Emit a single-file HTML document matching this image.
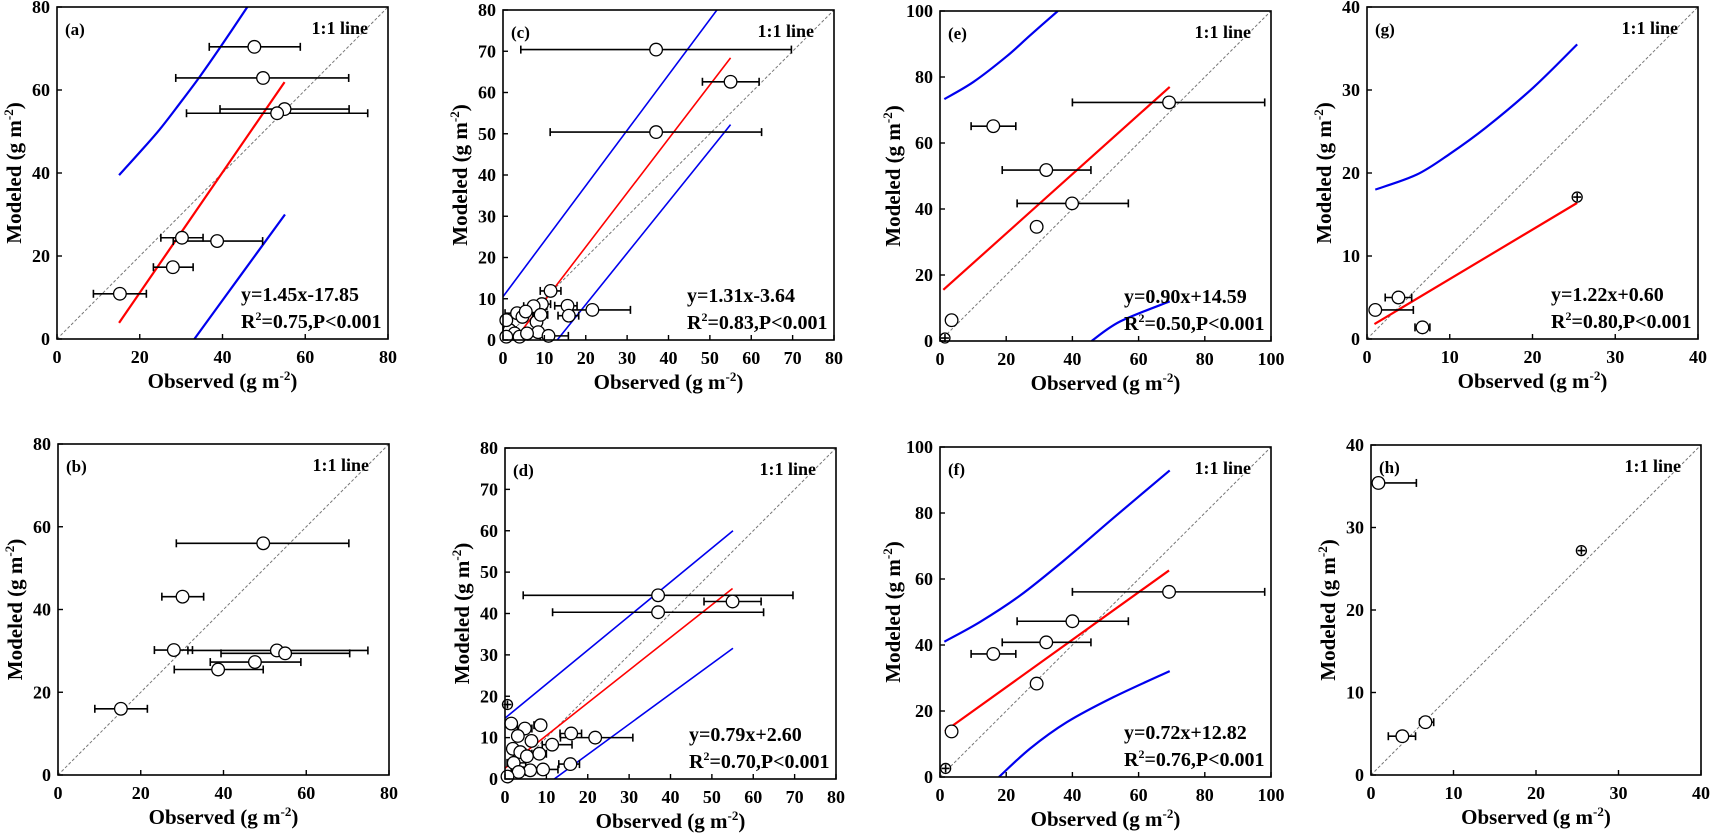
<!DOCTYPE html>
<html><head><meta charset="utf-8"><style>
html,body{margin:0;padding:0;background:#fff;}
svg{display:block;font-family:"Liberation Serif",serif;font-weight:bold;}
</style></head><body>
<svg id="fig" width="1711" height="840" viewBox="0 0 1711 840" xmlns="http://www.w3.org/2000/svg"></svg>
<script>
// ---- panel (a)
const aX=[47.7,49.8,55.0,53.2,30.2,38.7,28.0,15.2];
const aY=[70.4,62.9,55.4,54.4,24.4,23.6,17.3,10.9];
const aLo=[36.8,28.7,39.4,31.3,25.1,28.1,23.3,8.8];
const aHi=[58.8,70.5,70.6,75.1,35.3,49.7,32.9,21.6];
const aUpX=[15,20,24.9,29.7,34.5,39.4,46.2];
const aUpY=[39.5,45.0,50.6,56.8,63.2,70.2,80.3];
const aLowX=[33.2,44,55.1];
const aLowY=[0,14.8,30];
const aRedX=[15,55];
const aRedY=[3.9,61.9];
// ---- panel (b)
const bX=[49.6,30.1,28.0,52.9,54.9,47.6,38.7,15.2];
const bY=[56.0,43.1,30.2,30.1,29.4,27.3,25.5,16.0];
const bLo=[28.6,25.1,23.3,31.4,39.4,36.8,28.1,8.9];
const bHi=[70.3,35.2,32.5,74.9,70.5,58.7,49.6,21.6];
// ---- panel (c)
const cX=[37.0,55.0,37.0,11.5,21.6,15.6,15.9,9.4,7.4,8.1,9.1,3.4,4.7,5.5,8.5,11.0,1.6,2.8,0.8,4.0,5.8,0.8];
const cY=[70.4,62.6,50.4,11.9,7.3,8.3,5.9,8.7,8.2,4.4,6.1,6.5,5.6,6.9,1.9,1.0,2.4,1.6,0.8,0.8,1.6,4.8];
const cLo=[4.3,48.2,11.4,9.0,15.5,12.5,13.3,7.4,5.0,null,7.5,0.5,null,4.0,null,9.0,0,1.0,null,2.5,null,null];
const cHi=[69.7,61.9,62.5,14.0,30.8,17.9,18.3,11.5,10.6,null,10.8,7.2,null,7.5,null,15.8,3.2,5.0,null,6.0,null,null];
const cUpX=[0,51.7], cUpY=[10.5,80];
const cLowX=[13.1,55], cLowY=[0,52.2];
const cRedX=[2.78,55], cRedY=[0,68.4];
// ---- panel (d)
const dX=[37.0,55.0,37.0,1.5,4.8,8.6,3.1,6.4,16.0,21.8,11.4,8.3,1.9,3.7,5.3,2.1,15.8,9.2,6.1,3.3,0.6];
const dY=[44.4,42.9,40.3,13.4,12.2,13.0,10.4,9.2,11.0,10.0,8.3,6.1,7.3,6.5,5.5,3.9,3.6,2.3,2.1,1.7,0.6];
const dLo=[4.4,48.1,11.5,null,3.0,7.0,null,null,13.3,13.4,9.0,6.5,null,2.0,null,0.5,13.0,6.2,4.5,1.5,null];
const dHi=[69.6,61.9,62.5,null,6.5,9.5,null,null,18.5,30.9,16.2,10.0,null,5.0,null,5.0,18.0,12.8,8.0,5.0,null];
const dCross=[[0.6,18.0]];
const dUpX=[0,55.1], dUpY=[14.7,60];
const dLowX=[11.9,55.1], dLowY=[0,31.6];
const dRedX=[0,55], dRedY=[2.6,46.05];
// ---- panel (e)
const eX=[69.2,16.1,32.1,39.9,29.2,3.5];
const eY=[72.3,65.1,51.8,41.7,34.6,6.3];
const eLo=[40.0,9.4,18.8,23.3,null,null];
const eHi=[98.1,22.9,45.6,56.9,null,null];
const eCross=[[1.5,0.9]];
const eUpX=[1.3,10.1,20.2,27.2,35.6], eUpY=[73.3,78.5,86.3,92.6,100];
const eLowX=[45.8,54.4,69.4], eLowY=[0,5.9,12.0];
const eRedX=[1,69.4], eRedY=[15.5,77.0];
// ---- panel (f)
const fX=[69.2,40.0,32.1,16.1,29.2,3.5];
const fY=[56.1,47.2,40.8,37.3,28.3,13.8];
const fLo=[40,23.3,18.8,9.4,null,null];
const fHi=[98.1,56.9,45.6,22.9,null,null];
const fCross=[[1.7,2.6]];
const fUpX=[1.3,12.1,24.2,37.3,52.4,69.4], fUpY=[41.0,47.0,55.0,65.5,78.5,92.9];
const fLowX=[17.8,27.2,38.3,52.4,69.4], fLowY=[0,8.6,16.6,24.2,32.1];
const fRedX=[1.5,69.2], fRedY=[13.9,62.6];
// ---- panel (g)
const gX=[3.8,1.0,6.7];
const gY=[5.0,3.5,1.4];
const gLo=[2.2,null,5.8];
const gHi=[5.4,5.6,7.6];
const gCross=[[25.4,17.1]];
const gUpX=[1,6,10,14.4,20.1,25.4], gUpY=[18.0,19.8,22.3,25.5,30.3,35.5];
const gRedX=[0.9,25.4], gRedY=[1.8,16.4];
// ---- panel (h)
const hX=[0.9,6.6,3.8];
const hY=[35.4,6.4,4.7];
const hLo=[null,5.9,2.1];
const hHi=[5.5,7.6,5.4];
const hCross=[[25.5,27.2]];
// tick labels
const ticks80by20=[0,20,40,60,80];
const ticks80by10=[0,10,20,30,40,50,60,70,80];
const ticks100=[0,20,40,60,80,100];
const ticks40=[0,10,20,30,40];

const NS="http://www.w3.org/2000/svg";
const svg=document.getElementById('fig');
function mk(tag,attrs,parent){const e=document.createElementNS(NS,tag);for(const k in attrs)e.setAttribute(k,attrs[k]);(parent||svg).appendChild(e);return e;}

const panels=[
 {id:'a',box:[57,7,388,339],max:80,ticks:ticks80by20,X:aX,Y:aY,lo:aLo,hi:aHi,cross:[],up:[aUpX,aUpY],low:[aLowX,aLowY],red:[aRedX,aRedY],eq:['y=1.45x-17.85','0.75'],lw:2.2},
 {id:'b',box:[58,444,389,775],max:80,ticks:ticks80by20,X:bX,Y:bY,lo:bLo,hi:bHi,cross:[]},
 {id:'c',box:[503,10,834,340],max:80,ticks:ticks80by10,X:cX,Y:cY,lo:cLo,hi:cHi,cross:[],up:[cUpX,cUpY],low:[cLowX,cLowY],red:[cRedX,cRedY],eq:['y=1.31x-3.64','0.83'],lw:1.6},
 {id:'d',box:[505,448,836,779],max:80,ticks:ticks80by10,X:dX,Y:dY,lo:dLo,hi:dHi,cross:dCross,up:[dUpX,dUpY],low:[dLowX,dLowY],red:[dRedX,dRedY],eq:['y=0.79x+2.60','0.70'],lw:1.6},
 {id:'e',box:[940,11,1271,341],max:100,ticks:ticks100,X:eX,Y:eY,lo:eLo,hi:eHi,cross:eCross,up:[eUpX,eUpY],low:[eLowX,eLowY],red:[eRedX,eRedY],eq:['y=0.90x+14.59','0.50'],lw:2.2},
 {id:'f',box:[940,447,1271,777],max:100,ticks:ticks100,X:fX,Y:fY,lo:fLo,hi:fHi,cross:fCross,up:[fUpX,fUpY],low:[fLowX,fLowY],red:[fRedX,fRedY],eq:['y=0.72x+12.82','0.76'],lw:2.2},
 {id:'g',box:[1367,7,1698,339],max:40,ticks:ticks40,X:gX,Y:gY,lo:gLo,hi:gHi,cross:gCross,up:[gUpX,gUpY],red:[gRedX,gRedY],eq:['y=1.22x+0.60','0.80'],lw:2.2},
 {id:'h',box:[1371,445,1701,775],max:40,ticks:ticks40,X:hX,Y:hY,lo:hLo,hi:hHi,cross:hCross}
];

function smoothPath(pts){
 if(pts.length<3)return 'M'+pts.map(p=>p[0]+','+p[1]).join(' L');
 let d='M'+pts[0][0]+','+pts[0][1];
 for(let i=0;i<pts.length-1;i++){
  const p0=pts[Math.max(i-1,0)],p1=pts[i],p2=pts[i+1],p3=pts[Math.min(i+2,pts.length-1)];
  const c1=[p1[0]+(p2[0]-p0[0])/6,p1[1]+(p2[1]-p0[1])/6];
  const c2=[p2[0]-(p3[0]-p1[0])/6,p2[1]-(p3[1]-p1[1])/6];
  d+=' C'+c1[0]+','+c1[1]+' '+c2[0]+','+c2[1]+' '+p2[0]+','+p2[1];
 }
 return d;
}

panels.forEach(p=>{
 const [L,T,R,B]=p.box;
 const sx=v=>L+(R-L)*v/p.max, sy=v=>B-(B-T)*v/p.max;
 const g=mk('g',{});
 
 
 const cp=mk('clipPath',{id:'clip'+p.id},g);
 mk('rect',{x:L,y:T,width:R-L,height:B-T},cp);
 const one=mk('line',{x1:sx(0),y1:sy(0),x2:sx(p.max),y2:sy(p.max),stroke:'#777','stroke-width':1,'stroke-dasharray':'3,2'},g);
 
 
 const curve=(xs,ys,col,w,name)=>{
  const pts=xs.map((x,i)=>[sx(x),sy(ys[i])]);
  const e=mk('path',{d:smoothPath(pts),fill:'none',stroke:col,'stroke-width':w,'clip-path':'url(#clip'+p.id+')'},g);
  
  
 };
 if(p.up)curve(p.up[0],p.up[1],'#0000ee',p.lw,'upper-prediction-band');
 if(p.low)curve(p.low[0],p.low[1],'#0000ee',p.lw,'lower-prediction-band');
 if(p.red)curve(p.red[0],p.red[1],'#ff0000',p.lw,'regression-line');
 p.X.forEach((x,i)=>{
  const lo=p.lo[i],hi=p.hi[i];
  if(lo===null&&hi===null)return;
  const x1=sx(lo===null?x:lo),x2=sx(hi===null?x:hi),y=sy(p.Y[i]);
  const eb=mk('g',{stroke:'#000','stroke-width':1.6},g);
  
  
  mk('line',{x1:x1,y1:y,x2:x2,y2:y},eb);
  if(lo!==null)mk('line',{x1:x1,y1:y-4,x2:x1,y2:y+4},eb);
  if(hi!==null)mk('line',{x1:x2,y1:y-4,x2:x2,y2:y+4},eb);
 });
 p.X.forEach((x,i)=>{
  const c=mk('circle',{cx:sx(x),cy:sy(p.Y[i]),r:6.3,fill:'#fff',stroke:'#000','stroke-width':1.3},g);
  
  
 });
 p.cross.forEach(pt=>{
  const cg=mk('g',{},g);
  
  
  const cx=sx(pt[0]),cy=sy(pt[1]);
  mk('circle',{cx:cx,cy:cy,r:5,fill:'#fff',stroke:'#000','stroke-width':1.3},cg);
  mk('line',{x1:cx-4,y1:cy,x2:cx+4,y2:cy,stroke:'#000','stroke-width':1.6},cg);
  mk('line',{x1:cx,y1:cy-4,x2:cx,y2:cy+4,stroke:'#000','stroke-width':1.6},cg);
 });
 const fr=mk('rect',{x:L,y:T,width:R-L,height:B-T,fill:'none',stroke:'#000','stroke-width':1.6},g);
 
 
 p.ticks.forEach(t=>{
  mk('line',{x1:sx(t),y1:B,x2:sx(t),y2:B-5,stroke:'#000','stroke-width':1.4},g);
  mk('line',{x1:L,y1:sy(t),x2:L+5,y2:sy(t),stroke:'#000','stroke-width':1.4},g);
  const xl=mk('text',{x:sx(t),y:B+24,'font-size':18,'text-anchor':'middle'},g);
  xl.textContent=t;
  
  
  const yl=mk('text',{x:L-7,y:sy(t)+6,'font-size':18,'text-anchor':'end'},g);
  yl.textContent=t;
  
  
 });
 const xt=mk('text',{x:(L+R)/2,y:B+49,'font-size':21,'text-anchor':'middle'},g);
 xt.innerHTML='Observed (g m<tspan font-size="13" dy="-8">-2</tspan><tspan dy="8">)</tspan>';
 
 
 const yx=L-(p.max===100?40:36);
 const yt=mk('text',{x:yx,y:(T+B)/2,'font-size':21,'text-anchor':'middle',transform:'rotate(-90 '+yx+' '+((T+B)/2)+')'},g);
 yt.innerHTML='Modeled (g m<tspan font-size="13" dy="-8">-2</tspan><tspan dy="8">)</tspan>';
 
 
 const pl=mk('text',{x:L+8,y:T+28,'font-size':17},g);
 pl.textContent='('+p.id+')';
 
 
 const ol=mk('text',{x:R-20,y:T+27,'font-size':18,'text-anchor':'end'},g);
 ol.textContent='1:1 line';
 
 
 if(p.eq){
  const e1=mk('text',{x:R-147,y:B-38,'font-size':20},g);
  e1.textContent=p.eq[0];
  
  
  const e2=mk('text',{x:R-147,y:B-11,'font-size':20},g);
  e2.innerHTML='R<tspan font-size="12" dy="-8">2</tspan><tspan dy="8">='+p.eq[1]+',P&lt;0.001</tspan>';
  
  
 }
});
</script>
</body></html>
